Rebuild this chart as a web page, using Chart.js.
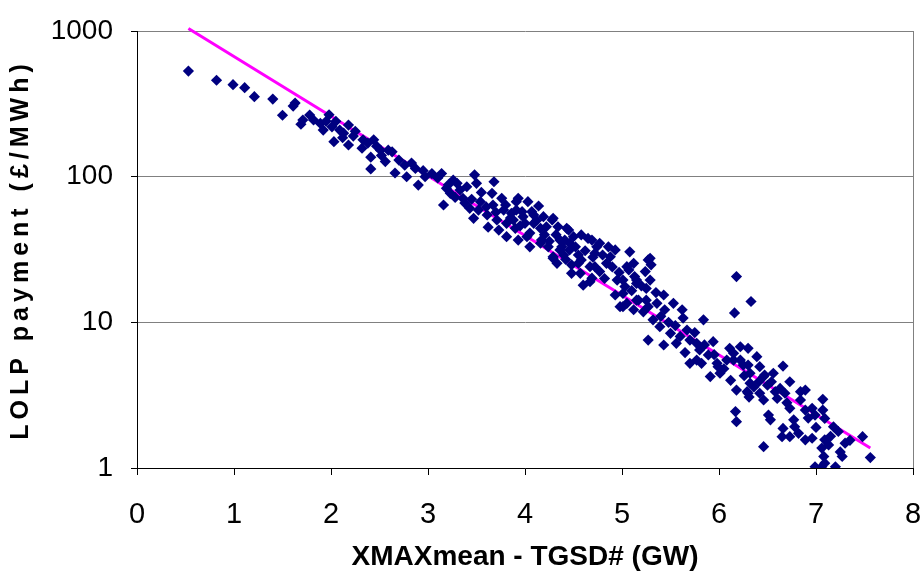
<!DOCTYPE html>
<html>
<head>
<meta charset="utf-8">
<script src="https://cdn.jsdelivr.net/npm/chart.js@4.4.0/dist/chart.umd.min.js"></script>
<style>
html, body { margin: 0; padding: 0; background: #fff; }
#wrap { width: 924px; height: 574px; }
</style>
</head>
<body>
<div id="wrap"><canvas id="graph" width="924" height="574"></canvas></div>
<script>
// points, par tranche de XMAXmean - TGSD# (GW)
var gapLow = [0.53, 0.82, 0.99, 1.11, 1.21, 1.40, 1.50, 1.61, 1.63, 1.69, 1.71, 1.78, 1.82, 1.89, 1.92, 1.98,
  2.01, 2.03, 2.09, 2.13, 2.18, 2.18, 2.23, 2.32, 2.33, 2.41, 2.41, 2.44, 2.47, 2.56, 2.59, 2.51, 2.63, 2.66,
  2.76, 2.78, 2.83, 2.87, 2.90, 2.97, 2.05, 2.25, 2.38, 2.52, 2.70, 2.95, 1.95, 2.12];
var priceLow = [531, 459, 428, 408, 354, 341, 264, 305, 320, 229, 245, 265, 245, 232, 209, 266,
  220, 174, 209, 199, 226, 165, 190, 157, 179, 136, 113, 179, 162, 127, 152, 152, 148, 106,
  120, 99.9, 124, 114, 87.6, 99.9, 240, 205, 170, 140, 130, 110, 240, 185];

var gapMid = [3.04, 3.14, 3.16, 3.19, 3.23, 3.26, 3.30, 3.33, 3.36, 3.40, 3.43, 3.47, 3.48, 3.50, 3.54, 3.61,
  3.66, 3.67, 3.68, 3.71, 3.76, 3.78, 3.81, 3.86, 3.90, 3.91, 3.93, 3.38, 3.52, 3.93, 4.03, 4.14, 3.91, 3.88,
  3.97, 4.07, 4.19, 4.28, 4.00, 4.09, 4.16, 4.22, 4.43, 4.50, 4.58, 4.65, 4.74, 3.73, 3.81, 4.02, 4.05, 4.16,
  4.24, 4.29, 4.33, 4.36, 4.41, 4.46, 4.48, 4.55, 4.57, 4.60, 4.67, 4.72, 4.72, 3.98, 4.09, 4.29, 4.34, 4.45,
  4.17, 4.36, 4.46, 4.69, 4.77, 4.86, 4.93, 4.29, 4.40, 4.48, 4.58, 4.67, 4.69, 4.77, 4.84, 4.88, 4.95, 4.93, 4.98,
  3.10, 3.21, 3.28, 3.45, 3.55, 3.60, 3.70, 3.62, 3.80, 3.85, 3.95, 4.05, 4.12, 4.20, 4.25, 4.32, 4.38, 4.42,
  4.52, 4.55, 4.62, 4.70, 4.80, 4.82, 4.90, 4.97];
var priceMid = [105, 105, 63.9, 83.2, 76.9, 94.9, 90.0, 81.0, 71.0, 85.3, 60.6, 51.8, 103, 90.0, 67.3, 54.6,
  76.9, 63.9, 92.3, 50.4, 71.0, 59.0, 47.8, 56.0, 44.2, 67.3, 36.7, 65.9, 59.0, 71.0, 67.3, 62.9, 59.0, 50.4,
  57.5, 57.5, 53.1, 50.4, 47.8, 47.8, 44.2, 45.3, 44.2, 38.7, 39.8, 37.7, 33.0, 43.0, 38.7, 38.7, 33.0, 34.9,
  33.0, 28.2, 25.4, 31.4, 36.7, 31.4, 21.7, 25.4, 21.7, 18.0, 19.0, 24.1, 29.8, 53.1, 54.6, 51.8, 45.3, 43.0,
  36.7, 36.7, 34.9, 36.7, 34.9, 33.0, 31.4, 27.5, 29.0, 24.8, 26.8, 24.1, 20.1, 22.3, 25.4, 28.2, 19.5, 15.4, 12.8,
  98, 88, 72, 70, 78, 62, 57, 45, 64, 52, 46, 41, 50, 40, 36, 40, 33, 27,
  33, 29, 31, 28, 29, 20, 24, 22];

var gapHigh = [5.08, 5.03, 5.07, 5.12, 5.15, 5.17, 5.24, 5.27, 5.25, 5.27, 5.29, 5.30, 5.05, 5.13, 5.29, 5.01,
  5.15, 5.01, 5.15, 5.01, 5.12, 5.25, 5.43, 5.36, 5.53, 5.44, 5.62, 5.63, 5.32, 5.39, 5.50, 5.84, 5.67, 5.70,
  5.77, 5.27, 5.43, 5.56, 5.80, 5.94, 5.89, 5.70, 5.82, 5.91, 5.22, 5.77, 5.99, 5.98,
  5.05, 5.10, 5.20, 5.35, 5.40, 5.48, 5.55, 5.60, 5.75, 5.85, 5.95, 5.65];
var priceHigh = [30.5, 17.6, 22.9, 25.4, 19.5, 14.2, 22.3, 26.8, 17.1, 12.8, 27.5, 24.8, 24.1, 20.6, 19.5, 19.5,
  18.5, 15.8, 14.2, 12.8, 12.2, 14.2, 15.4, 13.5, 13.5, 12.2, 12.2, 10.7, 10.4, 9.33, 8.41, 10.4, 8.86, 7.56,
  7.18, 7.56, 6.99, 7.18, 6.46, 7.36, 5.97, 5.23, 5.23, 4.24, 11.8, 5.51, 4.96, 5.23,
  13.5, 16.5, 17.8, 16, 11, 10, 9.5, 8, 8.5, 7, 6, 6.2];

var gapTail = [6.01, 6.08, 6.11, 6.22, 6.30, 6.15, 6.22, 6.39, 6.30, 6.42, 6.32, 6.46, 6.18, 6.30, 6.42, 6.18,
  6.33, 6.16, 6.15, 6.25, 6.66, 6.47, 6.32, 6.41, 6.54, 6.63, 6.73, 6.29, 6.46, 6.58, 6.68, 6.84, 6.89, 6.84,
  6.73, 6.89, 6.96, 7.07, 7.07, 6.99, 7.09, 7.18, 7.23, 6.51, 6.53, 6.77, 6.78, 6.66, 6.65, 6.73, 6.82, 6.89,
  6.96, 7.09, 7.06, 7.13, 6.46, 7.30, 7.25, 7.27, 7.08, 7.09, 6.99, 7.06, 7.20, 7.48, 7.56, 6.17, 6.18, 6.56, 6.31,
  6.05, 6.12, 6.26, 6.36, 6.50, 6.60, 6.70, 6.92, 7.00, 7.15, 7.35];
var priceTail = [4.47, 5.51, 6.63, 6.80, 6.63, 6.13, 5.51, 5.81, 5.09, 4.96, 4.47, 4.24, 3.43, 3.26, 3.26, 20.6,
  13.9, 11.6, 5.51, 5.09, 5.01, 4.35, 3.82, 3.91, 3.91, 3.52, 3.91, 3.34, 2.93, 3.34, 3.26, 3.34, 3.43, 2.93,
  2.57, 2.50, 2.57, 2.96, 2.50, 2.31, 2.19, 1.92, 1.78, 2.31, 2.14, 2.14, 1.92, 1.87, 1.64, 1.64, 1.73, 1.56,
  1.60, 1.56, 1.37, 1.44, 1.40, 1.48, 1.29, 1.20, 1.20, 1.08, 1.02, 1.02, 1.02, 1.64, 1.18, 2.44, 2.08, 4.47, 3.07,
  4.8, 4.0, 4.3, 3.6, 3.7, 3.0, 2.8, 2.2, 1.9, 1.65, 1.55];

// tendance exponentielle (extremites)
var trendGap = [0.53, 7.56];
var trendPrice = [1040, 1.37];

var xTicks = [0, 1, 2, 3, 4, 5, 6, 7, 8];
var yTicks = [1, 10, 100, 1000];

var police = '"Liberation Sans", Arial, sans-serif';

var toPoints = function(xs, ys) {
  return xs.map(function(x, i) { return { x: x, y: ys[i] }; });
};

var allPoints = [].concat(
  toPoints(gapLow, priceLow),
  toPoints(gapMid, priceMid),
  toPoints(gapHigh, priceHigh),
  toPoints(gapTail, priceTail)
);

// bord droit de la zone de trace (gris)
var cadre = {
  id: 'cadre',
  beforeDatasetsDraw: function(chart) {
    var a = chart.chartArea, ctx = chart.ctx;
    ctx.save();
    ctx.strokeStyle = '#808080';
    ctx.lineWidth = 1;
    ctx.beginPath();
    ctx.moveTo(Math.round(a.right) + 0.5, a.top);
    ctx.lineTo(Math.round(a.right) + 0.5, a.bottom);
    ctx.stroke();
    ctx.restore();
  }
};

// titre vertical espace
var titreEspace = {
  id: 'titreEspace',
  beforeDraw: function(chart) {
    var s = chart.scales.y;
    if (!s || s._espace) { return; }
    var orig = s.drawTitle;
    s.drawTitle = function() {
      this.ctx.save();
      this.ctx.letterSpacing = '5px';
      orig.call(this);
      this.ctx.restore();
    };
    s._espace = true;
  }
};

var config = {
  type: 'scatter',
  data: {
    datasets: [{
      label: 'LOLP',
      data: allPoints,
      pointStyle: 'rectRot',
      pointRadius: 5.6,
      borderWidth: 0,
      backgroundColor: '#000080',
      borderColor: '#000080'
    }, {
      type: 'line',
      label: 'Trend',
      data: toPoints(trendGap, trendPrice),
      borderColor: '#FF00FF',
      borderWidth: 3,
      pointRadius: 0,
      fill: false,
      clip: { left: 0, top: 4, right: 0, bottom: 0 }
    }]
  },
  options: {
    responsive: false,
    animation: false,
    devicePixelRatio: 1,
    layout: { padding: { left: 0, right: 11, top: 31, bottom: 0 } },
    plugins: {
      legend: { display: false },
      tooltip: { enabled: false }
    },
    scales: {
      x: {
        type: 'linear',
        min: 0,
        max: 8,
        afterBuildTicks: function(s) { s.ticks = xTicks.map(function(v) { return { value: v }; }); },
        afterFit: function(s) { s.height = 106; s.paddingLeft = 0; s.paddingRight = 0; },
        grid: { drawOnChartArea: false, drawTicks: true, tickLength: 7, tickColor: '#000', color: '#000' },
        border: { color: '#000', width: 1 },
        ticks: { color: '#000', padding: 23, maxRotation: 0, font: { family: police, size: 29 } },
        title: {
          display: true,
          text: 'XMAXmean - TGSD# (GW)',
          color: '#000',
          padding: { top: 0, bottom: 0 },
          font: { family: police, size: 28, weight: 'bold' }
        }
      },
      y: {
        type: 'logarithmic',
        min: 1,
        max: 1000,
        afterBuildTicks: function(s) { s.ticks = yTicks.map(function(v) { return { value: v }; }); },
        afterFit: function(s) { s.width = 137; s.paddingTop = 0; s.paddingBottom = 0; },
        grid: { color: '#808080', drawTicks: true, tickLength: 6, tickColor: '#000' },
        border: { color: '#000', width: 1 },
        ticks: {
          color: '#000',
          padding: 18,
          font: { family: police, size: 28 },
          callback: function(v) { return String(v); }
        },
        title: {
          display: true,
          text: 'LOLP payment (£/MWh)',
          color: '#000',
          padding: { top: 6, bottom: 0 },
          font: { family: police, size: 25, weight: 'bold' }
        }
      }
    }
  },
  plugins: [cadre, titreEspace]
};

window.onload = function() {
  var ctx = document.getElementById('graph').getContext('2d');
  window.myChart = new Chart(ctx, config);
};
</script>
</body>
</html>
